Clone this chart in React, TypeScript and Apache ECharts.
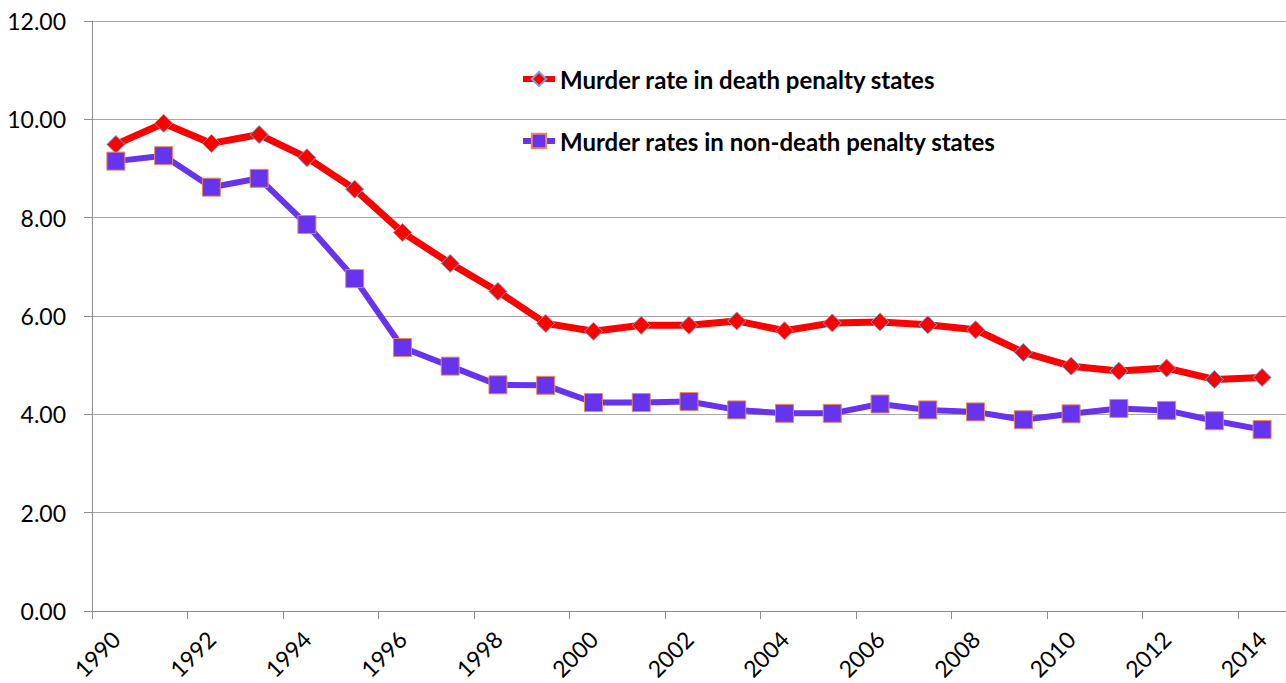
import React, { useEffect, useRef } from "react";
import * as echarts from "echarts";

const years = ["1990","1991","1992","1993","1994","1995","1996","1997","1998","1999","2000","2001","2002","2003","2004","2005","2006","2007","2008","2009","2010","2011","2012","2013","2014"];
const deathPenalty = [9.49,9.92,9.51,9.69,9.22,8.58,7.70,7.07,6.50,5.85,5.69,5.81,5.81,5.90,5.70,5.86,5.88,5.82,5.72,5.26,4.98,4.88,4.94,4.71,4.75];
const nonDeathPenalty = [9.15,9.26,8.62,8.80,7.86,6.76,5.36,4.98,4.60,4.59,4.24,4.24,4.26,4.09,4.02,4.02,4.21,4.09,4.05,3.89,4.01,4.12,4.08,3.87,3.69];
const seriesNames = ["Murder rate in death penalty states", "Murder rates in non-death penalty states"];

const FONT = "Lato, 'Open Sans', sans-serif";

export default function App() {
  const ref = useRef<HTMLDivElement>(null);
  useEffect(() => {
    const chart = echarts.init(ref.current!, null, { renderer: "svg" });
    chart.setOption({
      animation: false,
      grid: { left: 92, right: 0, top: 21, bottom: 72, containLabel: false },
      legend: {
        orient: "vertical",
        left: 515,
        top: 62,
        itemGap: 38,
        itemWidth: 32,
        itemHeight: 18,
        textStyle: { fontFamily: FONT, fontSize: 24, fontWeight: "bold", color: "#000" },
        lineStyle: { width: 6 },
        data: seriesNames,
      },
      xAxis: {
        type: "category",
        data: years,
        boundaryGap: true,
        axisLine: { lineStyle: { color: "#8c8c8c", width: 1 } },
        axisTick: { show: true, length: 8, lineStyle: { color: "#8c8c8c" } },
        axisLabel: { interval: 1, rotate: 45, fontFamily: FONT, fontSize: 23, color: "#000", margin: 24 },
      },
      yAxis: {
        type: "value",
        min: 0,
        max: 12,
        interval: 2,
        axisLine: { show: true, lineStyle: { color: "#8c8c8c", width: 1 } },
        axisTick: { show: true, length: 8, lineStyle: { color: "#8c8c8c" } },
        splitLine: { lineStyle: { color: "#a6a6a6", width: 1 } },
        axisLabel: { fontFamily: FONT, fontSize: 23, color: "#000", margin: 26, formatter: (v: number) => v.toFixed(2) },
      },
      series: [
        {
          name: seriesNames[0],
          type: "line",
          data: deathPenalty,
          symbol: "diamond",
          symbolSize: 18,
          lineStyle: { color: "#ff0000", width: 7 },
          itemStyle: { color: "#ff0000", borderColor: "#6fa8dc", borderWidth: 1 },
        },
        {
          name: seriesNames[1],
          type: "line",
          data: nonDeathPenalty,
          symbol: "rect",
          symbolSize: 18,
          lineStyle: { color: "#6633ee", width: 6 },
          itemStyle: { color: "#6633ee", borderColor: "#f08a4b", borderWidth: 1 },
        },
      ],
    });
    return () => chart.dispose();
  }, []);
  return <div ref={ref} style={{ width: 1286, height: 683, position: "absolute", left: 0, top: 0 }} />;
}
